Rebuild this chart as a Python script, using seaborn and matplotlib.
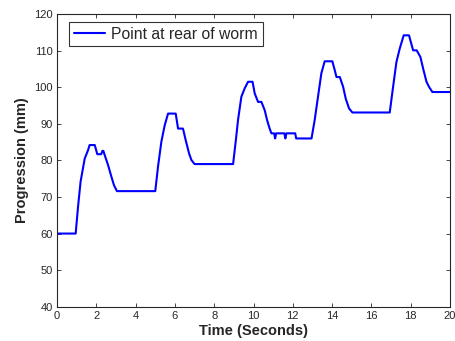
import seaborn as sns
import matplotlib
matplotlib.use("Agg")
import matplotlib.pyplot as plt
import pandas as pd

# Traced progression of the rear of the worm
time_s = [0, 0.95, 1.07, 1.2, 1.41, 1.58, 1.66, 1.92, 2.05, 2.25, 2.31, 2.36, 2.43, 2.6,
          2.77, 2.9, 3.05, 5.0, 5.14, 5.31, 5.48, 5.65, 6.04, 6.16, 6.41, 6.55, 6.72,
          6.84, 7.0, 8.96, 9.1, 9.21, 9.38, 9.55, 9.72, 9.95, 10.06, 10.23, 10.4, 10.57,
          10.69, 10.82, 10.91, 11.05, 11.1, 11.15, 11.57, 11.62, 11.67, 12.12, 12.17,
          12.95, 13.11, 13.28, 13.45, 13.62, 14.01, 14.13, 14.22, 14.39, 14.56, 14.69,
          14.86, 15.03, 16.93, 17.1, 17.27, 17.44, 17.64, 17.91, 18.12, 18.3, 18.49,
          18.63, 18.8, 18.93, 19.1, 20]
progress_mm = [60, 60, 67.3, 74.2, 80.5, 82.8, 84.2, 84.2, 81.7, 81.7, 82.6, 82.6, 81.4, 78.7,
               75.5, 73.2, 71.6, 71.6, 78.3, 85.1, 89.6, 92.8, 92.8, 88.7, 88.7, 85.5, 81.9,
               80.1, 79, 79, 85.5, 91, 97.4, 99.7, 101.5, 101.5, 98.3, 96, 96, 93.7,
               91, 88.7, 87.4, 87.4, 86, 87.4, 87.4, 86, 87.4, 87.4, 86,
               86, 91, 97.4, 103.8, 107.1, 107.1, 104.7, 102.8, 102.8, 100.1, 96.9,
               94.2, 93.1, 93.1, 100.1, 106.9, 110.6, 114.2, 114.2, 110.1, 110.1, 108.3,
               105.1, 101.5, 100.1, 98.7, 98.7]

df = pd.DataFrame({"t": time_s, "p": progress_mm})

sns.set_style("ticks")
plt.rcParams['font.family'] = ['Liberation Sans', 'DejaVu Sans']

fig = plt.figure(figsize=(4.56, 3.41), dpi=100)
ax = fig.add_axes([0.125, 0.1006, 0.862, 0.858])
sns.lineplot(data=df, x="t", y="p", sort=False, color="#0000ff", linewidth=1.5,
             label="Point at rear of worm", ax=ax)

ax.set_xlim(0, 20)
ax.set_ylim(40, 120)
ax.set_xticks(range(0, 21, 2))
ax.set_yticks(range(40, 121, 10))
ax.tick_params(direction="in", top=True, right=True, labelsize=8, length=3,
               width=0.6, pad=3, colors="#262626")
for s in ax.spines.values():
    s.set_linewidth(0.8)
    s.set_color("#262626")

ax.set_xlabel("Time (Seconds)", fontsize=10.5, fontweight="bold", labelpad=2)
ax.set_ylabel("Progression (mm)", fontsize=10.5, fontweight="bold", labelpad=4)

leg = ax.legend(loc="upper left", bbox_to_anchor=(0.0305, 0.973), fontsize=11.3,
                frameon=True, fancybox=False, handlelength=2.0, borderpad=0.3,
                handletextpad=0.4, borderaxespad=0)
leg.get_frame().set_edgecolor("black")
leg.get_frame().set_linewidth(0.8)

fig.savefig("out.png", dpi=100)
